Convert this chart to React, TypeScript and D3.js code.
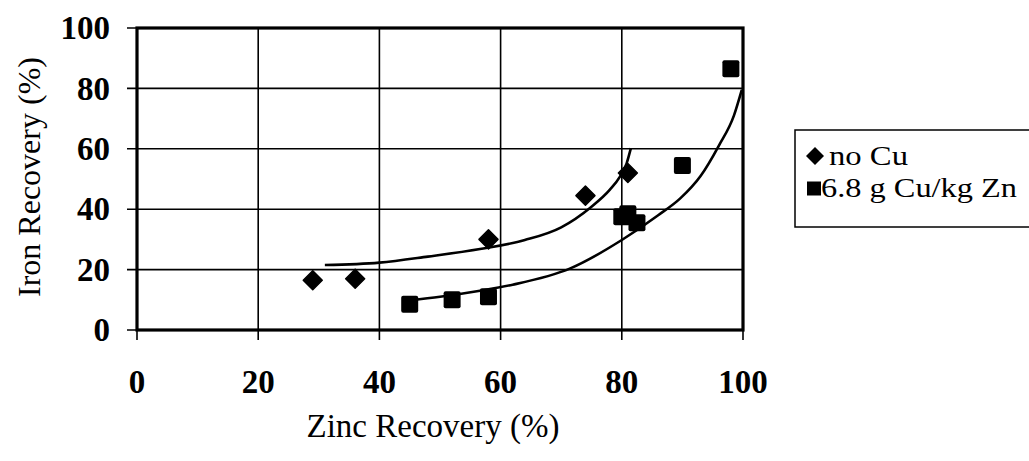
import React from "react";
import * as d3 from "d3";

// Measured points
const noCuZinc = [29, 36, 58, 74, 81];
const noCuIron = [16.5, 17, 30, 44.5, 52];
const cuZinc = [45, 52, 58, 80, 81, 82.5, 90, 98];
const cuIron = [8.5, 10, 11, 37.5, 38.5, 35.5, 54.5, 86.5];

// Fitted trend curves
const noCuFitZinc = [31, 40, 48, 56.6, 64, 70, 74.8, 78, 79.7, 80.8, 81.5];
const noCuFitIron = [21.5, 22.3, 24.3, 26.8, 29.8, 34, 40.5, 46.4, 50.8, 55.2, 60.2];
const cuFitZinc = [45, 50, 56.6, 62, 71.5, 80, 86, 89.6, 93, 96, 98.5, 99.8];
const cuFitIron = [9.8, 11, 13, 15, 20.4, 29.8, 38, 43.5, 51, 61, 71, 79.5];

const xTicks = [0, 20, 40, 60, 80, 100];
const yTicks = [0, 20, 40, 60, 80, 100];

const seriesNames = ["no Cu", "6.8 g Cu/kg Zn"];

const W = 1029;
const H = 461;
const plot = { left: 137, right: 743, top: 28, bottom: 330 };

export default function App() {
  const x = d3.scaleLinear().domain([0, 100]).range([plot.left, plot.right]);
  const y = d3.scaleLinear().domain([0, 100]).range([plot.bottom, plot.top]);

  const line = d3
    .line<[number, number]>()
    .x((d) => x(d[0]))
    .y((d) => y(d[1]))
    .curve(d3.curveMonotoneX);

  const noCuFit: [number, number][] = noCuFitZinc.map((v, i) => [v, noCuFitIron[i]]);
  const cuFit: [number, number][] = cuFitZinc.map((v, i) => [v, cuFitIron[i]]);

  const diamond = (cx: number, cy: number, r: number) =>
    `M${cx},${cy - r}L${cx + r},${cy}L${cx},${cy + r}L${cx - r},${cy}Z`;

  const font = "'Liberation Serif', 'Times New Roman', serif";

  return (
    <svg
      width={W}
      height={H}
      style={{ position: "absolute", left: 0, top: 0, background: "#fff" }}
      fontFamily={font}
    >
      {/* grid */}
      {xTicks.map((t) => (
        <line key={"gx" + t} x1={x(t)} x2={x(t)} y1={plot.top} y2={plot.bottom + 10} stroke="#000" strokeWidth={1.6} />
      ))}
      {yTicks.map((t) => (
        <line key={"gy" + t} x1={plot.left - 10} x2={plot.right} y1={y(t)} y2={y(t)} stroke="#000" strokeWidth={1.6} />
      ))}
      {/* frame */}
      <rect
        x={plot.left}
        y={plot.top}
        width={plot.right - plot.left}
        height={plot.bottom - plot.top}
        fill="none"
        stroke="#000"
        strokeWidth={3.2}
      />

      {/* trend curves */}
      <path d={line(noCuFit) ?? ""} fill="none" stroke="#000" strokeWidth={2.6} />
      <path d={line(cuFit) ?? ""} fill="none" stroke="#000" strokeWidth={2.6} />

      {/* points */}
      {noCuZinc.map((v, i) => (
        <path key={"d" + i} d={diamond(x(v), y(noCuIron[i]), 9.5)} fill="#000" stroke="#000" strokeWidth={1.5} strokeLinejoin="round" />
      ))}
      {cuZinc.map((v, i) => (
        <rect key={"s" + i} x={x(v) - 8.5} y={y(cuIron[i]) - 8.5} width={17} height={17} rx={2} fill="#000" />
      ))}

      {/* tick labels */}
      {yTicks.map((t) => (
        <text key={"ty" + t} x={110} y={y(t)} dy="0.34em" textAnchor="end" fontSize={33} fontWeight="bold">
          {t}
        </text>
      ))}
      {xTicks.map((t) => (
        <text key={"tx" + t} x={x(t)} y={393} textAnchor="middle" fontSize={33} fontWeight="bold">
          {t}
        </text>
      ))}

      {/* axis titles */}
      <text x={433} y={437} textAnchor="middle" fontSize={33}>
        Zinc Recovery (%)
      </text>
      <text transform="translate(40,177) rotate(-90)" textAnchor="middle" fontSize={32}>
        Iron Recovery (%)
      </text>

      {/* legend */}
      <rect x={795} y={130} width={260} height={97} fill="#fff" stroke="#000" strokeWidth={1.5} />
      <path d={diamond(815, 156, 9)} fill="#000" />
      <text x={829} y={165} fontSize={27} textLength={79} lengthAdjust="spacingAndGlyphs">
        {seriesNames[0]}
      </text>
      <rect x={807} y={181.5} width={14} height={14} fill="#000" />
      <text x={821} y={197} fontSize={27} textLength={196} lengthAdjust="spacingAndGlyphs">
        {seriesNames[1]}
      </text>
    </svg>
  );
}
